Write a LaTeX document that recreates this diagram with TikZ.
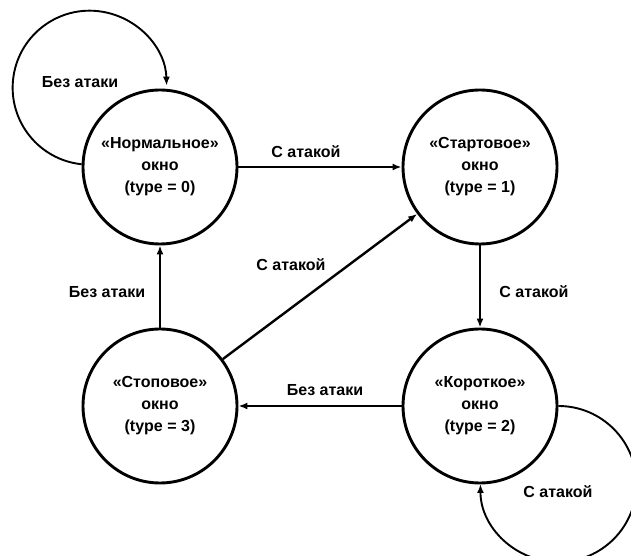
\documentclass[tikz,border=0pt]{standalone}
\usepackage{fontspec}
\setmainfont{Liberation Sans}
\usetikzlibrary{arrows.meta}
\begin{document}
\begin{tikzpicture}[x=1pt,y=1pt,
  state/.style={circle, draw, line width=2.9pt, minimum size=154pt, inner sep=0pt, align=center,
    font=\bfseries\fontsize{16}{22}\selectfont},
  arr/.style={line width=2.4pt, -{Latex[length=9pt,width=7pt]}},
  looparr/.style={line width=1.9pt, -{Latex[length=9pt,width=7pt]}},
  lbl/.style={font=\bfseries\fontsize{16}{18}\selectfont, inner sep=1pt}]
\useasboundingbox (0,0) rectangle (631,556);
\node[state] (n0) at (160,389) {«Нормальное»\\окно\\(type = 0)};
\node[state] (n1) at (480,389) {«Стартовое»\\окно\\(type = 1)};
\node[state] (n2) at (480,150) {«Короткое»\\окно\\(type = 2)};
\node[state] (n3) at (160,150) {«Стоповое»\\окно\\(type = 3)};
% self loops
\draw[looparr] (n0.178) arc[start angle=264, end angle=1.5, radius=77];
\draw[looparr] (n2.0) arc[start angle=90, end angle=-180, radius=78];
% transitions
\draw[arr] (n0) -- (n1);
\draw[arr] (n3) -- (n1);
\draw[arr] (n3) -- (n0);
\draw[arr] (n1) -- (n2);
\draw[arr] (n2) -- (n3);
% labels
\node[lbl] (l00) at (80,474) {Без атаки};
\node[lbl] (l01) at (306,404) {С атакой};
\node[lbl] (l31) at (291,291) {С атакой};
\node[lbl] (l30) at (107,264) {Без атаки};
\node[lbl] (l12) at (534,264) {С атакой};
\node[lbl] (l23) at (325,166) {Без атаки};
\node[lbl] (l22) at (558,64) {С атакой};
\end{tikzpicture}
\end{document}
